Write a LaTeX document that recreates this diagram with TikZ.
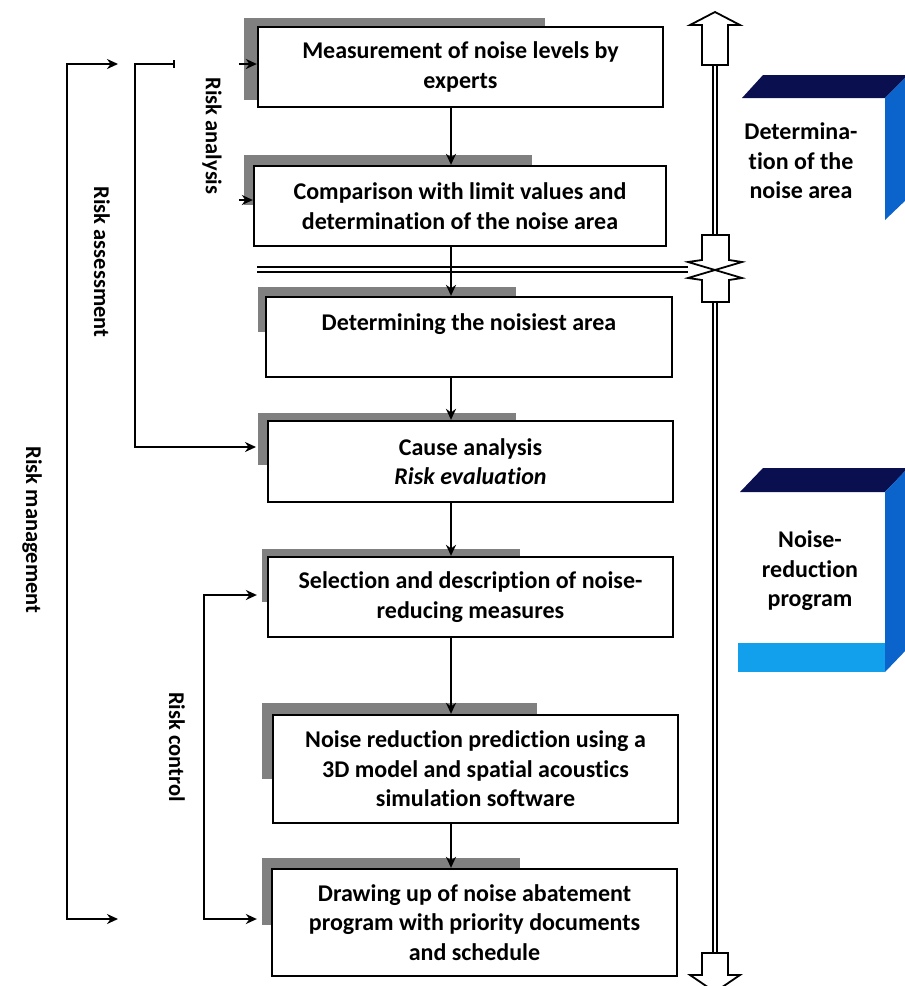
\documentclass[tikz,border=0pt]{standalone}
\usepackage{fontspec}
\setmainfont{Carlito}[Ligatures=NoCommon]
\usetikzlibrary{arrows.meta}

\definecolor{shadegray}{HTML}{808080}
\definecolor{cubetop}{HTML}{0A0F4F}
\definecolor{cubeside}{HTML}{0B63CC}
\definecolor{cubeband}{HTML}{12A0EC}

\newcommand{\boxfont}{\fontsize{24}{29.5}\selectfont\bfseries}
\newcommand{\sidefont}{\fontsize{22.5}{27}\selectfont\bfseries}

\tikzset{
  stepbox/.style={draw, line width=2.3pt, fill=white, align=center,
    minimum width=405pt, minimum height=80pt, inner sep=0pt, font=\boxfont},
  conn/.style={line width=2pt, -{Stealth[length=11pt,width=10pt]}},
  shaft/.style={double, double distance=2.5pt, line width=2.1pt},
  hollow/.style={draw, line width=1.8pt, fill=white, line join=miter},
  sidelabel/.style={rotate=-90, font=\sidefont},
  cubetext/.style={align=center, font=\boxfont, inner sep=0pt}
}

\begin{document}
\begin{tikzpicture}[x=1pt,y=-1pt]

    \useasboundingbox (0,0) rectangle (905,986);
    \clip (0,0) rectangle (905,986);

    % gray shadows behind the boxes
    \fill[shadegray] (244,18) rectangle (545,100);
    \fill[shadegray] (244,155) rectangle (532,205);
    \fill[shadegray] (258,287) rectangle (516,332);
    \fill[shadegray] (258,413) rectangle (516,465);
    \fill[shadegray] (262,549) rectangle (520,602);
    \fill[shadegray] (262,703) rectangle (537,779);
    \fill[shadegray] (262,858) rectangle (520,925);

    % the steps
    \node[stepbox] (measure) at (460.5,67) {Measurement of noise levels by\\experts};
    \node[stepbox, minimum width=412pt] (compare) at (460,206) {Comparison with limit values and\\determination of the noise area};
    \node[stepbox, minimum width=406pt] (noisiest) at (469,337) {Determining the noisiest area\\\mbox{}};
    \node[stepbox, minimum height=81pt] (cause) at (470.5,461.5) {Cause analysis\\\textit{Risk evaluation}};
    \node[stepbox] (select) at (470.5,597) {Selection and description of noise-\\reducing measures};
    \node[stepbox, minimum height=108pt] (predict) at (475.5,769) {Noise reduction prediction using a\\3D model and spatial acoustics\\simulation software};
    \node[stepbox, minimum height=107pt] (program) at (474.5,922.5) {Drawing up of noise abatement\\program with priority documents\\and schedule};

    % separator between the two phases
    \draw[shaft] (257,269.5) -- (688,269.5);

    % flow downwards
    \coordinate (spine) at (451,0);
    \draw[conn] (measure.south -| spine) -- (compare.north -| spine);
    \draw[conn] (compare.south -| spine) -- (noisiest.north -| spine);
    \draw[conn] (noisiest.south -| spine) -- (cause.north -| spine);
    \draw[conn] (cause.south -| spine) -- (select.north -| spine);
    \draw[conn] (select.south -| spine) -- (predict.north -| spine);
    \draw[conn] (predict.south -| spine) -- (program.north -| spine);

    % Risk analysis: short arrows into the first two steps
    \node[sidelabel] (analysis) at (212,136) {Risk analysis};
    \draw[conn] ([xshift=-18pt,yshift=3pt]measure.west) -- ([yshift=3pt]measure.west);
    \draw[conn] ([xshift=-14pt,yshift=6pt]compare.west) -- ([yshift=6pt]compare.west);

    % Risk assessment bracket
    \node[sidelabel] (assessment) at (102,262) {Risk assessment};
    \coordinate (assessTop) at (175,64);
    \coordinate (assessEnd) at (256,447);
    \draw[line width=2pt, {Bar[width=8pt]}-{Stealth[length=11pt,width=10pt]}] (assessTop) -- ++(-40,0) |- (assessEnd);

    % Risk management bracket
    \node[sidelabel] (management) at (32,530) {Risk management};
    \coordinate (manageTop) at (118,64);
    \coordinate (manageBot) at (118,919);
    \draw[line width=2pt, {Stealth[length=11pt,width=10pt]}-{Stealth[length=11pt,width=10pt]}] (manageTop) -- ++(-51,0) |- (manageBot);

    % Risk control bracket
    \node[sidelabel] (control) at (177,747) {Risk control};
    \draw[line width=2pt, {Stealth[length=11pt,width=10pt]}-{Stealth[length=11pt,width=10pt]}] ([xshift=-10pt,yshift=2pt]select.west) -- ++(-53,0) |- ([xshift=-14pt,yshift=3.5pt]program.west);

    % right: double shaft with hollow arrows
    \draw[shaft] (715,65) -- (715,235);
    \draw[shaft] (715,302) -- (715,953);
    \draw[hollow] (702,65) -- (702,25) -- (690,25) -- (715,12) -- (740,25) -- (728,25) -- (728,65) -- cycle;
    \draw[hollow] (702,235) -- (702,260) -- (688,262) -- (715,270) -- (742,262) -- (729,260) -- (729,235) -- cycle;
    \draw[hollow] (702,302) -- (702,280) -- (688,278) -- (715,270) -- (742,278) -- (729,280) -- (729,302) -- cycle;
    \draw[hollow] (702,953) -- (702,975) -- (690,975) -- (715,992) -- (740,975) -- (728,975) -- (728,953) -- cycle;

    % cube: noise area
    \fill[cubetop] (742,98) -- (763,75) -- (908,75) -- (885,98) -- cycle;
    \fill[cubeside] (885,98) -- (908,75) -- (908,198) -- (885,220) -- cycle;
    \node[cubetext] (areaText) at (801,161) {Determina-\\tion of the\\noise area};

    % cube: noise-reduction program
    \fill[cubetop] (740,492) -- (763,468) -- (908,468) -- (885,492) -- cycle;
    \fill[cubeside] (885,492) -- (908,468) -- (908,648) -- (885,672) -- cycle;
    \fill[cubeband] (738,643) rectangle (885,672);
    \node[cubetext] (programText) at (810,571) {Noise-\\reduction\\program};

\end{tikzpicture}
\end{document}
